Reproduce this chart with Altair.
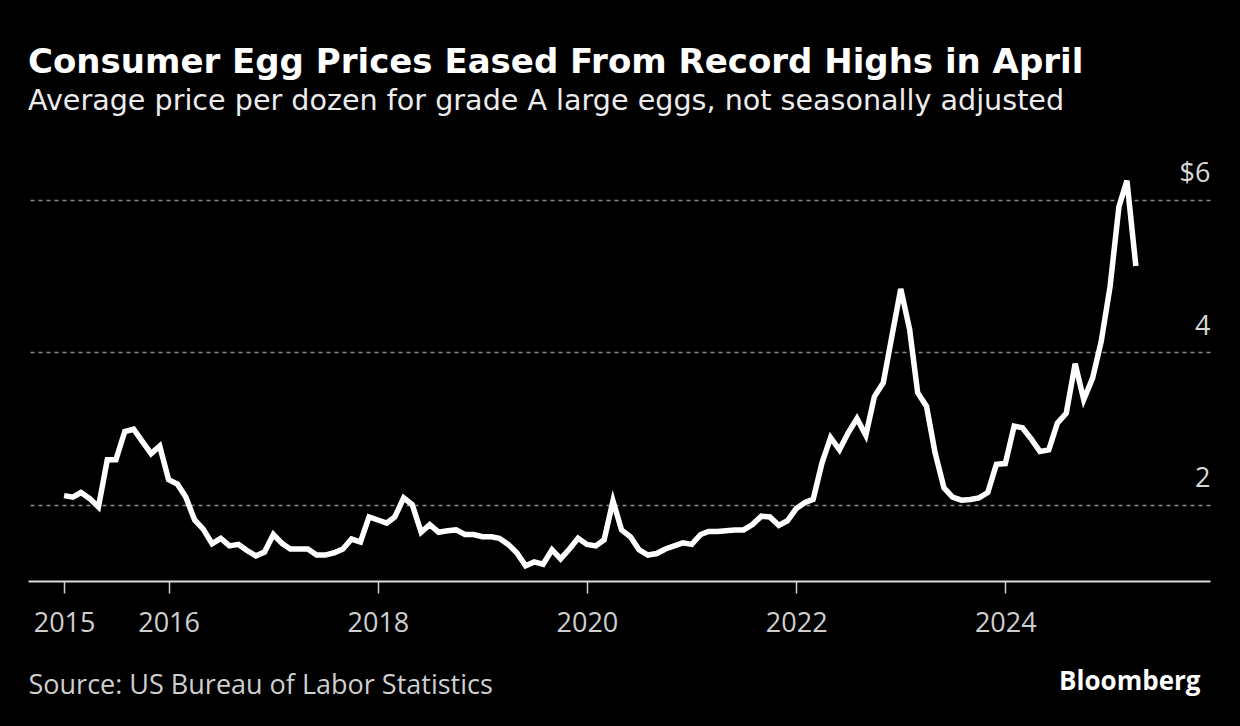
import altair as alt
import pandas as pd
import jinja2

# ---- data ----
years = [2015, 2016, 2017, 2018, 2019, 2020, 2021, 2022, 2023, 2024, 2025]
p2015 = [2.12, 2.10, 2.16, 2.08, 1.97, 2.59, 2.59, 2.96, 2.99, 2.83, 2.67, 2.77]
p2016 = [2.33, 2.27, 2.10, 1.80, 1.68, 1.49, 1.56, 1.46, 1.48, 1.40, 1.33, 1.38]
p2017 = [1.61, 1.49, 1.42, 1.42, 1.42, 1.34, 1.34, 1.37, 1.42, 1.55, 1.51, 1.84]
p2018 = [1.80, 1.76, 1.84, 2.09, 2.00, 1.64, 1.74, 1.64, 1.66, 1.67, 1.61, 1.61]
p2019 = [1.58, 1.58, 1.56, 1.48, 1.37, 1.20, 1.25, 1.22, 1.41, 1.29, 1.42, 1.56]
p2020 = [1.48, 1.46, 1.54, 2.05, 1.67, 1.58, 1.41, 1.34, 1.36, 1.42, 1.46, 1.50]
p2021 = [1.48, 1.61, 1.65, 1.65, 1.66, 1.67, 1.67, 1.74, 1.85, 1.84, 1.73, 1.79]
p2022 = [1.95, 2.03, 2.07, 2.55, 2.88, 2.72, 2.94, 3.13, 2.91, 3.42, 3.60, 4.21]
p2023 = [4.83, 4.30, 3.47, 3.29, 2.68, 2.22, 2.10, 2.06, 2.07, 2.09, 2.16, 2.53]
p2024 = [2.54, 3.03, 3.01, 2.86, 2.70, 2.72, 3.07, 3.20, 3.85, 3.38, 3.66, 4.14]
p2025 = [4.86, 5.91, 6.25, 5.13]
series = [p2015, p2016, p2017, p2018, p2019, p2020, p2021, p2022, p2023, p2024, p2025]

x_tick_years = [2015, 2016, 2018, 2020, 2022, 2024]
y_ticks = [2, 4, 6]

TITLE = "Consumer Egg Prices Eased From Record Highs in April"
SUBTITLE = "Average price per dozen for grade A large eggs, not seasonally adjusted"
SOURCE = "Source: US Bureau of Labor Statistics"
BRAND = "Bloomberg"

rows = []
for y, vals in zip(years, series):
    for m, v in enumerate(vals, start=1):
        rows.append({"date": f"{y}-{m:02d}-01", "price": v})
df = pd.DataFrame(rows)

FONT = "DejaVu Sans"
LABEL_FONT = "Open Sans"

x_enc = alt.X(
    "date:T",
    scale=alt.Scale(
        type="utc",
        domain=[
            alt.DateTime(year=2014, month=8, date=28, utc=True),
            alt.DateTime(year=2025, month=12, date=16, utc=True),
        ],
    ),
    axis=alt.Axis(
        values=[alt.DateTime(year=y, month=1, date=1, utc=True) for y in x_tick_years],
        labelExpr="utcFormat(datum.value, '%Y')",
        grid=False,
        domainColor="#dcdcdc",
        domainWidth=2,
        tickColor="#cfcfcf",
        tickWidth=1.5,
        tickSize=12,
        labelColor="#cfcfcf",
        labelFont=LABEL_FONT,
        labelFontSize=27,
        labelBaseline="alphabetic",
        labelPadding=38,
        labelFlush=False,
        title=SOURCE,
        titleAnchor="start",
        titleAlign="left",
        titleBaseline="alphabetic",
        titleX=0,
        titleY=112,
        titleFont=LABEL_FONT,
        titleFontSize=27,
        titleFontWeight="normal",
        titleColor="#cfcfcf",
    ),
)

y_enc = alt.Y(
    "price:Q",
    scale=alt.Scale(domain=[1.0, 6.39], nice=False, zero=False),
    axis=alt.Axis(
        orient="right",
        values=y_ticks,
        labelExpr="datum.value == 6 ? '$6' : datum.label",
        grid=True,
        gridColor="#8a8a8a",
        gridDash=[4, 4],
        gridWidth=1.5,
        domain=False,
        ticks=False,
        tickSize=0,
        labelAlign="right",
        labelBaseline="alphabetic",
        labelPadding=0,
        labelOffset=-18,
        labelColor="#d8d8d8",
        labelFont=LABEL_FONT,
        labelFontSize=27,
        title=BRAND,
        titleAngle=0,
        titleAlign="right",
        titleBaseline="alphabetic",
        titleX=-10,
        titleY=519,
        titleFont=LABEL_FONT,
        titleFontSize=26,
        titleFontWeight="bold",
        titleColor="#ffffff",
    ),
)

chart = (
    alt.Chart(df)
    .mark_line(color="#ffffff", strokeWidth=5.5)
    .encode(x=x_enc, y=y_enc)
    .properties(
        width=1182,
        height=411,
        padding={"left": 20, "top": 162, "right": 22, "bottom": 137},
        autosize=alt.AutoSizeParams(type="none"),
        title=alt.TitleParams(
            text=TITLE,
            subtitle=SUBTITLE,
            anchor="start",
            frame="group",
            orient="top",
            offset=44,
            font=FONT,
            fontSize=34,
            fontWeight="bold",
            color="#ffffff",
            subtitleFont=FONT,
            subtitleFontSize=28.6,
            subtitleColor="#ececec",
            subtitlePadding=7,
        ),
    )
    .configure(background="#000000")
    .configure_view(stroke=None)
)

TEMPLATE = jinja2.Template("""<!DOCTYPE html>
<html>
<head>
<style>html, body { background: #000; } #{{ output_div }}.vega-embed { width: 100%; display: flex; }</style>
<script type="text/javascript" src="{{ base_url }}/vega@{{ vega_version }}"></script>
<script type="text/javascript" src="{{ base_url }}/vega-lite@{{ vegalite_version }}"></script>
<script type="text/javascript" src="{{ base_url }}/vega-embed@{{ vegaembed_version }}"></script>
</head>
<body>
<div id="{{ output_div }}"></div>
<script>
(function(vegaEmbed) {
  var spec = {{ spec }};
  var embedOpt = {{ embed_options }};
  vegaEmbed("#{{ output_div }}", spec, embedOpt).catch(function(e) {
    document.getElementById("{{ output_div }}").innerText = e.message; throw e;
  });
})(vegaEmbed);
</script>
</body>
</html>""")

chart.save("out.html", embed_options={"renderer": "svg", "actions": False}, template=TEMPLATE)
